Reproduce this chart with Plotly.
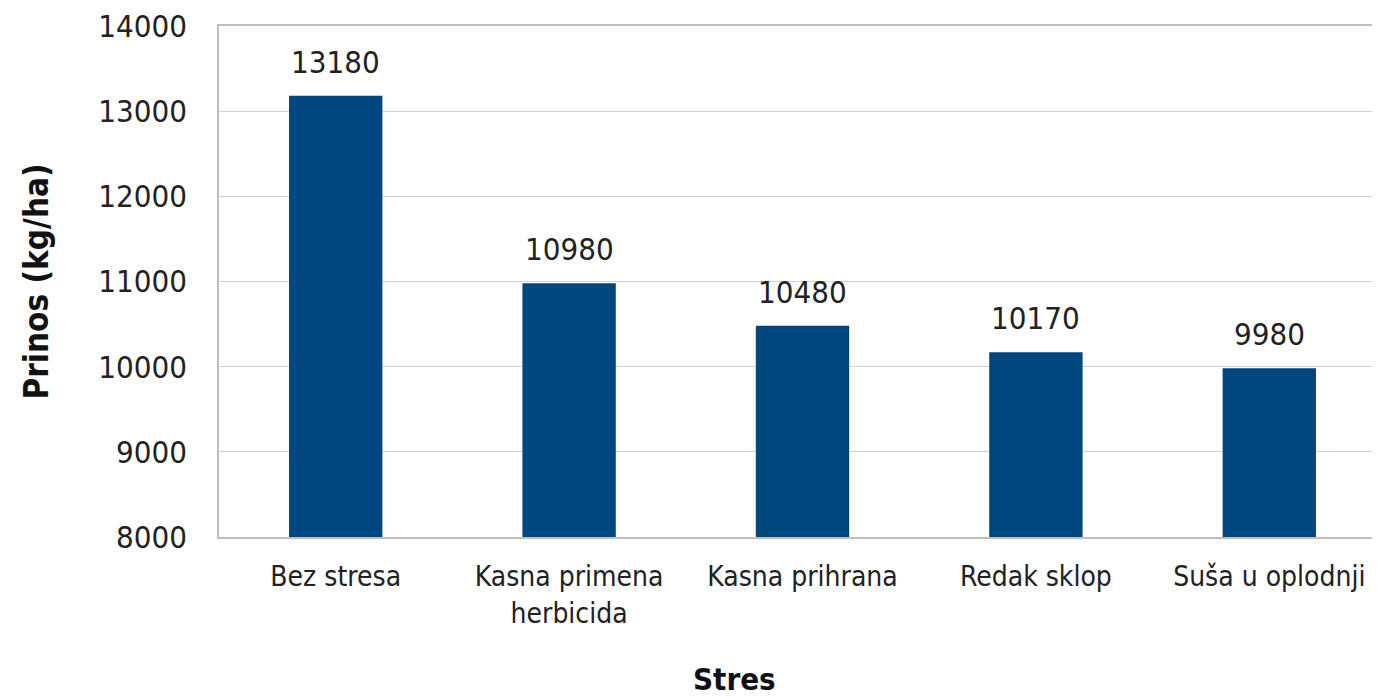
import plotly.graph_objects as go

categories = ["Bez stresa", "Kasna primena<br>herbicida", "Kasna prihrana", "Redak sklop", "Suša u oplodnji"]
values = [13180, 10980, 10480, 10170, 9980]
y_ticks = [8000, 9000, 10000, 11000, 12000, 13000, 14000]
x_title = "Stres"
y_title = "Prinos (kg/ha)"

FONT = "Liberation Sans Narrow, DejaVu Sans Condensed, Arial Narrow, sans-serif"
BAR_COLOR = "#00467f"

fig = go.Figure()
fig.add_trace(go.Bar(
    x=categories,
    y=values,
    marker=dict(color=BAR_COLOR, line=dict(width=0)),
    hoverinfo="x+y",
))

for c, v in zip(categories, values):
    fig.add_annotation(
        x=c, y=v, text=str(v), showarrow=False,
        yanchor="bottom", yshift=14,
        font=dict(family=FONT, size=31, color="#222222"),
    )

fig.add_annotation(
    xref="paper", yref="paper", x=0.442, y=-0.278,
    xanchor="center", yanchor="middle", showarrow=False,
    text="<b>" + x_title + "</b>",
    font=dict(family=FONT, size=31, color="#111111"),
)

fig.update_layout(
    width=1380, height=699,
    margin=dict(l=211, r=0, t=17, b=170),
    paper_bgcolor="white",
    plot_bgcolor="white",
    bargap=0.6,
    showlegend=False,
    font=dict(family=FONT, size=28, color="#333333"),
)

fig.update_xaxes(
    showline=True, linecolor="#bfbfbf", linewidth=1.5, mirror=True,
    ticks="", ticklabelstandoff=14,
    tickfont=dict(family=FONT, size=28, color="#222222"),
)
fig.update_yaxes(
    range=[8000, 14000],
    tickvals=y_ticks,
    ticktext=[str(t) for t in y_ticks],
    ticklabeloverflow="allow",
    showgrid=True, gridcolor="#d3d3d3", gridwidth=1,
    showline=True, linecolor="#bfbfbf", linewidth=1.5, mirror=True,
    ticks="", ticklabelstandoff=24,
    tickfont=dict(family=FONT, size=31, color="#222222"),
    title=dict(text="<b>" + y_title + "</b>", font=dict(family=FONT, size=33, color="#111111"), standoff=40),
    zeroline=False,
)

fig.write_html("out.html")
